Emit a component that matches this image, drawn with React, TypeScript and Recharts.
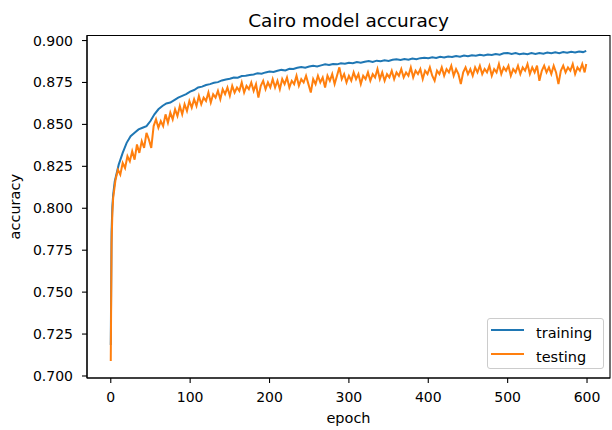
import React from 'react';
import { LineChart, Line, XAxis, YAxis, Legend, Label, ReferenceArea } from 'recharts';

const trainEpochs = [
  0, 1, 2, 3, 5, 10, 15, 20, 25, 30, 35, 40, 45, 50, 55, 60, 65, 70, 75, 80, 85, 90, 95, 100,
  105, 110, 115, 120, 125, 130, 135, 140, 145, 150, 155, 160, 165, 170, 175, 180, 185, 190, 195, 200,
  205, 210, 215, 220, 225, 230, 235, 240, 245, 250, 255, 260, 265, 270, 275, 280, 285, 290, 295, 300,
  305, 310, 315, 320, 325, 330, 335, 340, 345, 350, 355, 360, 365, 370, 375, 380, 385, 390, 395, 400,
  405, 410, 415, 420, 425, 430, 435, 440, 445, 450, 455, 460, 465, 470, 475, 480, 485, 490, 495, 500,
  505, 510, 515, 520, 525, 530, 535, 540, 545, 550, 555, 560, 565, 570, 575, 580, 585, 590, 595, 599,
];

const trainingAcc = [
  0.7185, 0.786, 0.801, 0.808, 0.816, 0.826, 0.833, 0.839, 0.843, 0.845, 0.847, 0.848, 0.849, 0.852, 0.856, 0.859,
  0.861, 0.8625, 0.863, 0.8645, 0.866, 0.867, 0.868, 0.8695,
  0.8705, 0.872, 0.8725, 0.8735, 0.874, 0.8748, 0.8752, 0.8762, 0.8768, 0.8772, 0.878, 0.8778, 0.8788, 0.879, 0.8795, 0.8798,
  0.8805, 0.8802, 0.881, 0.8815,
  0.8812, 0.882, 0.8825, 0.8822, 0.8832, 0.883, 0.8838, 0.8842, 0.8838, 0.8845, 0.885, 0.8846, 0.8852, 0.8858, 0.8854, 0.886,
  0.8858, 0.8865, 0.8862, 0.8868,
  0.8865, 0.8872, 0.8868, 0.8874, 0.8878, 0.8872, 0.888, 0.8876, 0.8882, 0.8878, 0.8885, 0.8888, 0.8884, 0.889, 0.8886, 0.8893,
  0.8889, 0.8895, 0.8898, 0.8894,
  0.89, 0.8896, 0.8903, 0.8899, 0.8905, 0.8902, 0.8908, 0.8904, 0.891, 0.8906, 0.8912, 0.891, 0.8915, 0.8911, 0.8917, 0.8914,
  0.892, 0.8916, 0.8924, 0.8926,
  0.892, 0.8925, 0.8919, 0.8923, 0.8918, 0.8925, 0.892, 0.8926, 0.8922, 0.8928, 0.8924, 0.893, 0.8925, 0.8931, 0.8927, 0.8933,
  0.8929, 0.8935, 0.8931, 0.8938,
];

const testEpochs = [
  0, 1, 2, 3, 6, 9, 12, 15, 18, 21, 24, 27, 30, 33, 36, 39, 42, 45, 48, 51, 54, 57, 60, 63, 66, 69, 72, 75, 78,
  81, 84, 87, 90, 93, 96, 99, 102, 105, 108, 111, 114, 117, 120, 123, 126, 129, 132, 135, 138, 141, 144, 147, 150,
  153, 156, 159, 162, 165, 168, 171, 174, 177, 180, 183, 186, 189, 192, 195, 198, 201, 204, 207, 210, 213, 216, 219,
  222, 225, 228, 231, 234, 237, 240, 243, 246, 249, 252, 255, 258, 261, 264, 267, 270, 273, 276, 279, 282, 285, 288,
  291, 294, 297, 300, 303, 306, 309, 312, 315, 318, 321, 324, 327, 330, 333, 336, 339, 342, 345, 348, 351, 354, 357,
  360, 363, 366, 369, 372, 375, 378, 381, 384, 387, 390, 393, 396, 399, 402, 405, 408, 411, 414, 417, 420, 423, 426,
  429, 432, 435, 438, 441, 444, 447, 450, 453, 456, 459, 462, 465, 468, 471, 474, 477, 480, 483, 486, 489, 492, 495,
  498, 501, 504, 507, 510, 513, 516, 519, 522, 525, 528, 531, 534, 537, 540, 543, 546, 549, 552, 555, 558, 561, 564,
  567, 570, 573, 576, 579, 582, 585, 588, 591, 594, 597, 599,
];

const testingAcc = [
  0.709, 0.779, 0.797, 0.806, 0.817, 0.823, 0.82, 0.827, 0.824, 0.831, 0.828, 0.834, 0.829, 0.838, 0.833, 0.84, 0.836,
  0.845, 0.841, 0.836, 0.849, 0.853, 0.848, 0.852, 0.849, 0.856, 0.851, 0.857, 0.853,
  0.859, 0.855, 0.861, 0.856, 0.862, 0.858, 0.864, 0.86, 0.865, 0.861, 0.867, 0.862, 0.866, 0.864, 0.869, 0.863, 0.868,
  0.866, 0.87, 0.865, 0.871, 0.868, 0.872, 0.867,
  0.873, 0.869, 0.872, 0.87, 0.875, 0.869, 0.873, 0.871, 0.875, 0.87, 0.874, 0.866, 0.873, 0.876, 0.871, 0.875, 0.872,
  0.877, 0.872, 0.876, 0.871, 0.877, 0.874,
  0.878, 0.872, 0.876, 0.874, 0.879, 0.873, 0.877, 0.875, 0.879, 0.874, 0.869, 0.877, 0.874, 0.879, 0.875, 0.878, 0.872,
  0.879, 0.876, 0.88, 0.874, 0.879, 0.884,
  0.877, 0.88, 0.875, 0.879, 0.876, 0.881, 0.877, 0.88, 0.874, 0.879, 0.877, 0.881, 0.876, 0.88, 0.878, 0.883, 0.877,
  0.881, 0.876, 0.88, 0.878, 0.882, 0.877,
  0.881, 0.879, 0.883, 0.878, 0.881, 0.879, 0.884, 0.878, 0.882, 0.88, 0.883, 0.877, 0.882, 0.88, 0.884, 0.879, 0.876,
  0.882, 0.88, 0.884, 0.879, 0.883, 0.881,
  0.885, 0.879, 0.883, 0.88, 0.874, 0.881, 0.884, 0.88, 0.883, 0.879, 0.884, 0.881, 0.885, 0.88, 0.883, 0.881, 0.885,
  0.879, 0.883, 0.881, 0.886, 0.88, 0.884,
  0.882, 0.885, 0.879, 0.883, 0.881, 0.885, 0.88, 0.884, 0.882, 0.886, 0.88, 0.884, 0.881, 0.885, 0.876, 0.882, 0.885,
  0.881, 0.884, 0.88, 0.885, 0.881, 0.874,
  0.882, 0.885, 0.881, 0.884, 0.882, 0.886, 0.88, 0.884, 0.882, 0.886, 0.881, 0.886,
];

const xTicks = [0, 100, 200, 300, 400, 500, 600];
const yTicks = [0.7, 0.725, 0.75, 0.775, 0.8, 0.825, 0.85, 0.875, 0.9];
const seriesOrder = ['training', 'testing'];

const trainingData = trainEpochs.map((e, i) => ({ epoch: e, training: trainingAcc[i] }));
const testingData = testEpochs.map((e, i) => ({ epoch: e, testing: testingAcc[i] }));

const FONT = 'DejaVu Sans';
const X_DOMAIN: [number, number] = [-29.95, 628.95];
const Y_DOMAIN: [number, number] = [0.6988, 0.903];

const tickStyle = { fill: '#000', fontSize: 14, fontFamily: FONT };

const YLabel = (props: any) => {
  const vb = props.viewBox || { x: 7, y: 35.5, width: 80, height: 342.5 };
  const cx = vb.x + 13;
  const cy = vb.y + vb.height / 2;
  return (
    <text
      x={cx}
      y={cy}
      transform={`rotate(-90 ${cx} ${cy})`}
      textAnchor="middle"
      fontSize={14.5}
      fontFamily={FONT}
      fill="#000"
    >
      accuracy
    </text>
  );
};

const LegendBox = (props: any) => {
  const payload = [...(props.payload || [])].sort(
    (a: any, b: any) => seriesOrder.indexOf(a.value) - seriesOrder.indexOf(b.value)
  );
  return (
    <div
      style={{
        position: 'relative',
        width: 117,
        height: 51,
        boxSizing: 'border-box',
        border: '1px solid #cccccc',
        borderRadius: 3,
        background: 'rgba(255,255,255,0.8)',
        fontFamily: FONT,
        fontSize: 14.5,
      }}
    >
      {payload.map((entry: any, i: number) => (
        <React.Fragment key={entry.value}>
          <div
            style={{
              position: 'absolute',
              left: 3,
              top: 10 + i * 24.4,
              width: 33,
              height: 2,
              background: entry.color,
            }}
          />
          <span
            style={{
              position: 'absolute',
              left: 48,
              top: 7 + i * 24.4,
              lineHeight: '14px',
              color: '#000',
              whiteSpace: 'nowrap',
            }}
          >
            {entry.value}
          </span>
        </React.Fragment>
      ))}
    </div>
  );
};

export default function App() {
  return (
    <div style={{ position: 'absolute', left: 0, top: 0, width: 612, height: 430, background: '#fff' }}>
      <LineChart width={612} height={430} margin={{ top: 35.5, right: 2, bottom: 22, left: 7 }}>
        <XAxis
          dataKey="epoch"
          type="number"
          domain={X_DOMAIN}
          ticks={xTicks}
          allowDataOverflow
          height={30}
          tick={tickStyle}
          tickSize={5}
          tickMargin={9}
          tickLine={{ stroke: '#000', strokeWidth: 1.1 }}
          axisLine={{ stroke: '#000', strokeWidth: 1.1 }}
        >
          <Label value="epoch" position="bottom" offset={5} fontSize={14.5} fontFamily={FONT} fill="#000" />
        </XAxis>
        <YAxis
          type="number"
          domain={Y_DOMAIN}
          ticks={yTicks}
          allowDataOverflow
          width={80}
          tick={tickStyle}
          tickFormatter={(v: number) => v.toFixed(3)}
          tickSize={5}
          tickMargin={9}
          tickLine={{ stroke: '#000', strokeWidth: 1.1 }}
          axisLine={{ stroke: '#000', strokeWidth: 1.1 }}
          label={{ content: YLabel }}
        />
        <ReferenceArea
          x1={X_DOMAIN[0]}
          x2={X_DOMAIN[1]}
          y1={Y_DOMAIN[0]}
          y2={Y_DOMAIN[1]}
          fill="none"
          fillOpacity={0}
          stroke="#000"
          strokeWidth={1.1}
          strokeOpacity={1}
        >
          <Label value="Cairo model accuracy" position="top" offset={9} fontSize={18.5} fontFamily={FONT} fill="#000" />
        </ReferenceArea>
        <Legend
          layout="horizontal"
          verticalAlign="middle"
          align="center"
          content={<LegendBox />}
          wrapperStyle={{ position: 'absolute', left: 487, top: 318, width: 117, height: 51 }}
        />
        <Line
          data={trainingData}
          type="linear"
          dataKey="training"
          name="training"
          stroke="#1f77b4"
          strokeWidth={2}
          dot={false}
          isAnimationActive={false}
        />
        <Line
          data={testingData}
          type="linear"
          dataKey="testing"
          name="testing"
          stroke="#ff7f0e"
          strokeWidth={2}
          dot={false}
          isAnimationActive={false}
        />
      </LineChart>
    </div>
  );
}
